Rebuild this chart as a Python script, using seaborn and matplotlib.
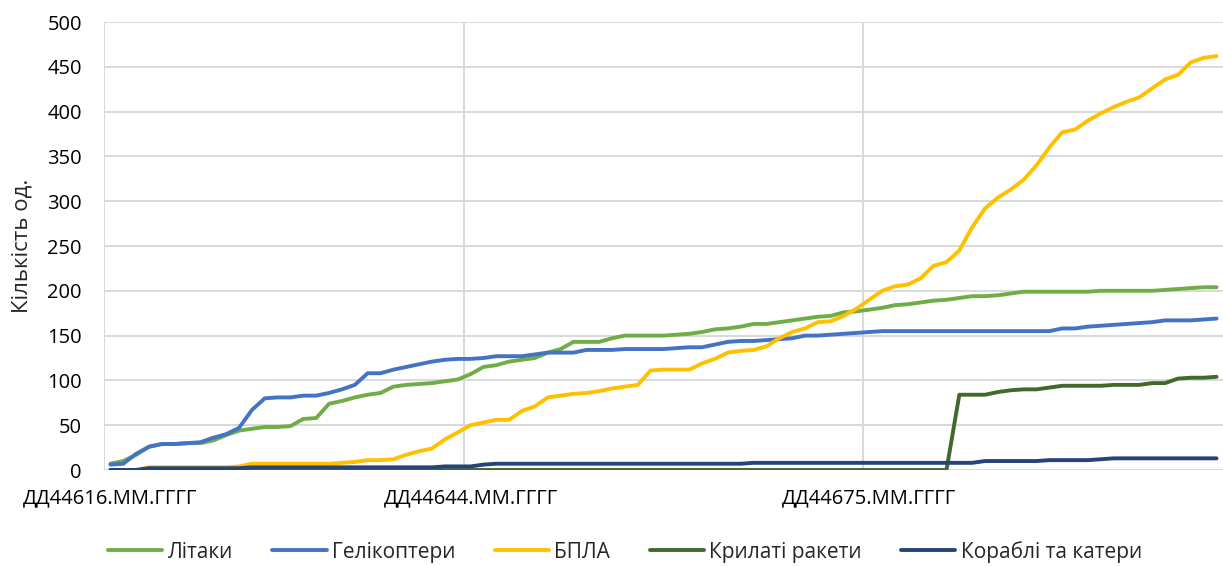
import matplotlib
matplotlib.use("Agg")
import matplotlib.pyplot as plt
import seaborn as sns
import pandas as pd
import numpy as np

# Excel date serials, one point per day (24.02 - 21.05.2022)
days = list(range(44616, 44703))

litaky = [7, 10, 17, 26, 29, 29, 30, 30, 33, 39,
          44, 46, 48, 48, 49, 57, 58, 74, 77, 81,
          84, 86, 93, 95, 96, 97, 99, 101, 107, 115,
          117, 121, 123, 125, 131, 135, 143, 143, 143, 147,
          150, 150, 150, 150, 151, 152, 154, 157, 158, 160,
          163, 163, 165, 167, 169, 171, 172, 176, 177, 179,
          181, 184, 185, 187, 189, 190, 192, 194, 194, 195,
          197, 199, 199, 199, 199, 199, 199, 200, 200, 200,
          200, 200, 201, 202, 203, 204, 204]

helikoptery = [6, 7, 18, 26, 29, 29, 30, 31, 36, 40,
               47, 67, 80, 81, 81, 83, 83, 86, 90, 95,
               108, 108, 112, 115, 118, 121, 123, 124, 124, 125,
               127, 127, 127, 129, 131, 131, 131, 134, 134, 134,
               135, 135, 135, 135, 136, 137, 137, 140, 143, 144,
               144, 145, 146, 147, 150, 150, 151, 152, 153, 154,
               155, 155, 155, 155, 155, 155, 155, 155, 155, 155,
               155, 155, 155, 155, 158, 158, 160, 161, 162, 163,
               164, 165, 167, 167, 167, 168, 169]

bpla = [0, 0, 0, 3, 3, 3, 3, 3, 3, 3,
        4, 7, 7, 7, 7, 7, 7, 7, 8, 9,
        11, 11, 12, 17, 21, 24, 34, 42, 50, 53,
        56, 56, 66, 71, 81, 83, 85, 86, 88, 91,
        93, 95, 111, 112, 112, 112, 119, 124, 131, 133,
        134, 138, 147, 154, 158, 165, 166, 172, 180, 190,
        200, 205, 207, 214, 228, 232, 245, 271, 292, 304,
        313, 324, 340, 360, 377, 380, 390, 398, 405, 411,
        416, 426, 436, 441, 455, 460, 462]

rakety = [0] * 66 + [84, 84, 84, 87, 89, 90, 90, 92, 94, 94,
                     94, 94, 95, 95, 95, 97, 97, 102, 103, 103,
                     104]

korabli = [0, 0, 0, 2, 2, 2, 2, 2, 2, 2,
           2, 3, 3, 3, 3, 3, 3, 3, 3, 3,
           3, 3, 3, 3, 3, 3, 4, 4, 4, 6,
           7, 7, 7, 7, 7, 7, 7, 7, 7, 7,
           7, 7, 7, 7, 7, 7, 7, 7, 7, 7,
           8, 8, 8, 8, 8, 8, 8, 8, 8, 8,
           8, 8, 8, 8, 8, 8, 8, 8, 10, 10,
           10, 10, 10, 11, 11, 11, 11, 12, 13, 13,
           13, 13, 13, 13, 13, 13, 13]

names = ["Літаки", "Гелікоптери", "БПЛА", "Крилаті ракети", "Кораблі та катери"]
colors = ["#70AD47", "#4472C4", "#FFC000", "#43682B", "#264478"]

tick_days = [44616, 44644, 44675]
tick_labels = ["ДД44616.ММ.ГГГГ", "ДД44644.ММ.ГГГГ", "ДД44675.ММ.ГГГГ"]

frames = []
for name, vals in zip(names, [litaky, helikoptery, bpla, rakety, korabli]):
    frames.append(pd.DataFrame({"day": days, "value": vals, "series": name}))
df = pd.concat(frames, ignore_index=True)

sns.set_style("white")
plt.rcParams["font.family"] = ["Open Sans", "DejaVu Sans"]

fig = plt.figure(figsize=(12.23, 5.66), dpi=100)
ax = fig.add_axes([104 / 1223, 1 - 470 / 566, 1119 / 1223, 448 / 566])

sns.lineplot(data=df, x="day", y="value", hue="series", hue_order=names,
             palette=colors, linewidth=2.8, ax=ax, legend=False)

ax.set_xlim(days[0] - 0.5, days[-1] + 0.5)
ax.set_ylim(0, 500)
ax.set_yticks(range(0, 501, 50))
ax.set_xticks(tick_days)
ax.set_xticklabels(tick_labels)
ax.set_xticks([d - 0.5 for d in tick_days], minor=True)

ax.grid(which="major", axis="y", color="#D9D9D9", linewidth=1.4)
ax.grid(which="minor", axis="x", color="#D9D9D9", linewidth=1.4)
ax.grid(which="major", axis="x", visible=False)
ax.set_axisbelow(True)
for s in ax.spines.values():
    s.set_visible(False)

ax.tick_params(axis="both", which="both", length=0, labelsize=14.5, colors="#000000")
ax.tick_params(axis="y", pad=16)
ax.tick_params(axis="x", pad=13)

ax.set_xlabel("")
ax.set_ylabel("Кількість од.", fontsize=16)
ax.yaxis.set_label_coords(-0.064, 0.5)

handles = [plt.Line2D([], [], color=c, linewidth=2.8) for c in colors]
fig.legend(handles, names, loc="center", bbox_to_anchor=(0.511, 0.025), ncol=5,
           frameon=False, fontsize=15, handlelength=2.6, handletextpad=0.25,
           columnspacing=1.9)

fig.savefig("out.png", dpi=100)
